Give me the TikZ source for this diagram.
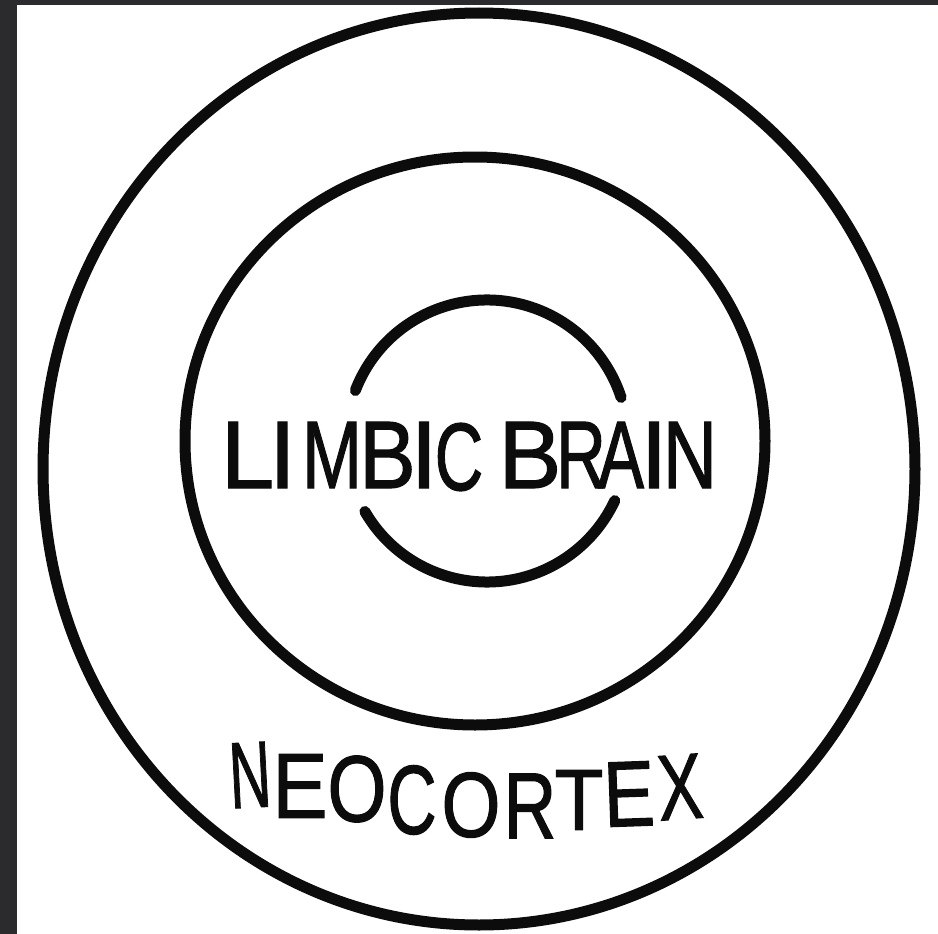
\documentclass[tikz,border=0pt]{standalone}
\usepackage{fontspec}
\setmainfont{Liberation Sans}
\newfontfamily\lettering[FakeBold=1.3]{Liberation Sans}
\usepackage{graphicx}
\definecolor{ink}{HTML}{0C0C0C}
\definecolor{frame}{HTML}{2B2B2D}
\tikzset{
  ring/.style={draw=ink, line width=11pt, line cap=round, line join=round},
  glyph/.style={inner sep=0pt, outer sep=0pt, text=ink, font=\lettering\fontsize{96}{96}\selectfont},
}
\newcommand{\glyph}[7]{\node[glyph,rotate=#5] (#1) at (#2,#3) {\scalebox{#4}[#6]{#7}};}
\begin{document}
\begin{tikzpicture}[x=1pt,y=-1pt]
\useasboundingbox (0,0) rectangle (938,934);
\fill[white] (0,0) rectangle (938,934);
\fill[frame] (0,0) rectangle (17,934);
\fill[frame] (0,0) rectangle (938,5);
% outer ring
\draw[ring] (479,469) ellipse [x radius=436, y radius=456];
% middle ring
\draw[ring] (475,441) ellipse [x radius=290, y radius=284];
% inner broken ring
\coordinate (ic) at (487,441);
\draw[ring] (ic) ++(-159:141) arc[start angle=-159, end angle=-18, radius=141];
\draw[ring] (ic) ++(150:141) arc[start angle=150, end angle=25, radius=141];
% LIMBIC BRAIN
\glyph{l1}{247.5}{455}{1.0}{0}{1}{L}
\glyph{l2}{282.5}{455}{1.0}{0}{1}{I}
\glyph{l3}{332}{455}{0.75}{0}{1}{M}
\glyph{l4}{387.5}{455}{0.88}{0}{1}{B}
\glyph{l5}{424}{455}{1.0}{0}{1}{I}
\glyph{l6}{459}{457}{0.7}{0}{1}{C}
\glyph{l7}{530}{455}{0.98}{0}{1}{B}
\glyph{l8}{581}{455}{0.72}{0}{1}{R}
\glyph{l9}{621}{455}{0.72}{0}{1}{A}
\glyph{l10}{654}{455}{1.0}{0}{1}{I}
\glyph{l11}{690}{455}{0.78}{0}{1}{N}
% NEOCORTEX
\glyph{n1}{250}{775}{0.6}{3}{0.98}{N}
\glyph{n2}{300}{786}{0.86}{0}{0.96}{E}
\glyph{n3}{357}{789}{0.79}{0}{0.98}{O}
\glyph{n4}{412}{800}{0.71}{0}{1.02}{C}
\glyph{n5}{471}{805}{0.79}{0}{0.96}{O}
\glyph{n6}{530}{806}{0.76}{0}{0.98}{R}
\glyph{n7}{579}{800}{0.83}{0}{0.9}{T}
\glyph{n8}{629}{794}{0.8}{2}{0.97}{E}
\glyph{n9}{680}{787}{0.7}{4}{0.97}{X}
\end{tikzpicture}
\end{document}
